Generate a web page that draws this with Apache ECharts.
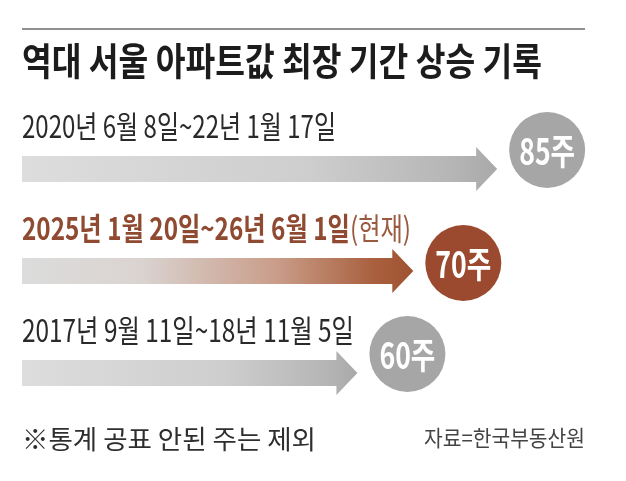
<!DOCTYPE html>
<html>
<head>
<meta charset="utf-8">
<script src="https://cdn.jsdelivr.net/npm/echarts@6/dist/echarts.min.js"></script>
<style>
  html, body { margin: 0; padding: 0; background: #fff; }
  #chart { width: 626px; height: 481px; }
</style>
</head>
<body>
<div id="chart"></div>
<script>
// data
const periods = ['2020년 6월 8일~22년 1월 17일', '2025년 1월 20일~26년 6월 1일', '2017년 9월 11일~18년 11월 5일'];
const periodNotes = ['', '(현재)', ''];
const weeks = [85, 70, 60];
const isCurrent = [false, true, false];

const title = '역대 서울 아파트값 최장 기간 상승 기록';
const footnote = '※통계 공표 안된 주는 제외';
const source = '자료=한국부동산원';

const FONT = '"Noto Sans CJK KR", "Noto Sans", sans-serif';
const badgeLift = [19, 8, 19];

// squeeze text horizontally so it takes the width seen in the picture
const measureCtx = document.createElement('canvas').getContext('2d');
function textWidth(txt, font) {
    measureCtx.font = font;
    return measureCtx.measureText(txt).width;
}
function squeeze(parts, target) {
    let w = 0;
    parts.forEach(p => { w += textWidth(p[0], p[1]); });
    return target / w;
}

const labelWidths = [314, 389, 332];

const grayFill = new echarts.graphic.LinearGradient(0, 0, 1, 0, [
    { offset: 0, color: '#dddddd' },
    { offset: 0.6, color: '#cecece' },
    { offset: 0.9, color: '#b6b6b6' },
    { offset: 1, color: '#a9a9a9' }
]);
const brownFill = new echarts.graphic.LinearGradient(0, 0, 1, 0, [
    { offset: 0, color: '#dcdcdc' },
    { offset: 0.3, color: '#dad4d1' },
    { offset: 0.65, color: '#c99d89' },
    { offset: 0.9, color: '#a9603f' },
    { offset: 1, color: '#a0522f' }
]);

function renderArrow(params, api) {
    const i = params.dataIndex;
    const row = api.value(1);
    const start = api.coord([0, row]);
    const tip = api.coord([api.value(0), row]);
    const cy = tip[1];
    const hb = tip[0] - 21;
    const cur = isCurrent[i];

    const cx = tip[0] + 50;
    const by = cy - badgeLift[i];

    const children = [];

    children.push({
        type: 'polygon',
        shape: {
            points: [
                [start[0], cy - 13], [hb, cy - 13], [hb, cy - 22], [tip[0], cy],
                [hb, cy + 22], [hb, cy + 13], [start[0], cy + 13]
            ]
        },
        style: { fill: cur ? brownFill : grayFill }
    });

    children.push({
        type: 'circle',
        shape: { cx: cx, cy: by, r: 38 },
        style: { fill: cur ? '#9b4a2f' : '#a6a6a6' }
    });

    const badgeFont = 'bold 36px ' + FONT;
    children.push({
        type: 'text',
        x: cx, y: by + 1,
        scaleX: 0.74,
        style: {
            text: api.value(0) + '주',
            font: badgeFont,
            fill: '#fff',
            align: 'center',
            verticalAlign: 'middle'
        }
    });

    // period label above the arrow
    if (cur) {
        const mainFont = 'bold 31px ' + FONT;
        const noteFont = '31px ' + FONT;
        const sx = squeeze([[periods[i], mainFont], [periodNotes[i], noteFont]], labelWidths[i]);
        children.push({
            type: 'text',
            x: start[0], y: cy - 43,
            scaleX: sx,
            style: {
                text: '{m|' + periods[i] + '}{n|' + periodNotes[i] + '}',
                align: 'left',
                verticalAlign: 'middle',
                rich: {
                    m: { font: mainFont, fill: '#8f4a31' },
                    n: { font: noteFont, fill: '#9a5a40' }
                }
            }
        });
    } else {
        const font = '31px ' + FONT;
        children.push({
            type: 'text',
            x: start[0], y: cy - 43,
            scaleX: squeeze([[periods[i], font]], labelWidths[i]),
            style: {
                text: periods[i],
                font: font,
                fill: '#2a2a2a',
                align: 'left',
                verticalAlign: 'middle'
            }
        });
    }

    return { type: 'group', children: children };
}

const chart = echarts.init(document.getElementById('chart'), null, { renderer: 'canvas' });

const titleFont = 'bold 38px ' + FONT;
const footFont = '26px ' + FONT;
const sourceFont = '22px ' + FONT;

const option = {
    backgroundColor: '#fff',
    animation: false,
    grid: { left: 22, right: 45, top: 118, bottom: 57 },
    xAxis: { type: 'value', min: 0, max: 100, show: false },
    yAxis: {
        type: 'category',
        data: periods,
        inverse: true,
        show: false
    },
    graphic: [
        {
            type: 'line',
            shape: { x1: 22, y1: 29, x2: 585, y2: 29 },
            style: { stroke: '#6b6b6b', lineWidth: 1.5 }
        },
        {
            type: 'text',
            x: 22, y: 61,
            scaleX: squeeze([[title, titleFont]], 520),
            style: { text: title, font: titleFont, fill: '#1c1c1c', align: 'left', verticalAlign: 'middle' }
        },
        {
            type: 'text',
            x: 22, y: 439,
            scaleX: squeeze([[footnote, footFont]], 294),
            style: { text: footnote, font: footFont, fill: '#2e2e2e', align: 'left', verticalAlign: 'middle' }
        },
        {
            type: 'text',
            x: 585, y: 438,
            scaleX: squeeze([[source, sourceFont]], 161),
            style: { text: source, font: sourceFont, fill: '#444', align: 'right', verticalAlign: 'middle' }
        }
    ],
    series: [{
        type: 'custom',
        renderItem: renderArrow,
        encode: { x: 0, y: 1 },
        data: weeks.map((w, i) => [w, i]),
        clip: false
    }]
};

chart.setOption(option);
</script>
</body>
</html>
